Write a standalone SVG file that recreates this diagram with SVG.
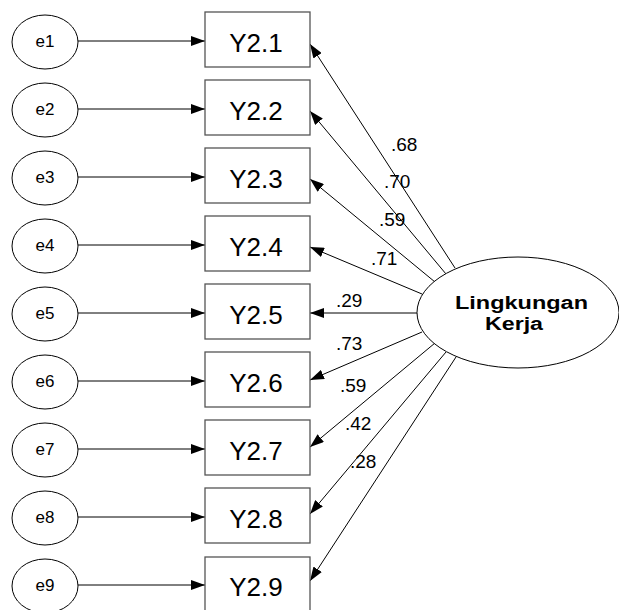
<svg xmlns="http://www.w3.org/2000/svg" width="619" height="610" viewBox="0 0 619 610">
<style>
.bg{fill:#fff}
.err ellipse{fill:#fff;stroke:#000;stroke-width:1}
.obs rect{fill:#fff;stroke:#555;stroke-width:1.3}
.et{font-family:"Liberation Sans",Arial,sans-serif;font-size:17px;fill:#000;text-anchor:middle}
.ot{font-family:"Liberation Sans",Arial,sans-serif;font-size:26px;fill:#000;text-anchor:middle}
.lt{font-family:"Liberation Sans",Arial,sans-serif;font-size:18px;font-weight:bold;fill:#000}
.wt{font-family:"Liberation Sans",Arial,sans-serif;font-size:19px;fill:#000}
#connectors line{stroke:#000;stroke-width:1;marker-end:url(#ah)}
</style>
<defs>
<marker id="ah" markerUnits="userSpaceOnUse" markerWidth="14" markerHeight="10" refX="14" refY="5" orient="auto">
<path d="M0,0 L14,5 L0,10 z" fill="#000"/>
</marker>
</defs>
<rect class="bg" x="0" y="0" width="619" height="610"/>

<g id="connectors">
<line x1="78" y1="41" x2="205" y2="41"/>
<line x1="78" y1="109" x2="205" y2="109"/>
<line x1="78" y1="177" x2="205" y2="177"/>
<line x1="78" y1="245" x2="205" y2="245"/>
<line x1="78" y1="313" x2="205" y2="313"/>
<line x1="78" y1="381" x2="205" y2="381"/>
<line x1="78" y1="449" x2="205" y2="449"/>
<line x1="78" y1="517" x2="205" y2="517"/>
<line x1="78" y1="585" x2="205" y2="585"/>

<line x1="455" y1="268" x2="310" y2="44"/>
<line x1="446" y1="274" x2="310" y2="111"/>
<line x1="435" y1="282" x2="310" y2="179"/>
<line x1="422" y1="294" x2="310" y2="247"/>
<line x1="417" y1="313" x2="310" y2="313"/>
<line x1="422" y1="332" x2="310" y2="380"/>
<line x1="435" y1="343" x2="310" y2="447"/>
<line x1="446" y1="352" x2="310" y2="514"/>
<line x1="456" y1="357" x2="310" y2="581"/>
</g>

<g id="weights">
<text class="wt" x="391" y="151">.68</text>
<text class="wt" x="384" y="188">.70</text>
<text class="wt" x="379" y="226">.59</text>
<text class="wt" x="371" y="265">.71</text>
<text class="wt" x="336" y="307">.29</text>
<text class="wt" x="336" y="350">.73</text>
<text class="wt" x="340" y="392">.59</text>
<text class="wt" x="345" y="430">.42</text>
<text class="wt" x="350" y="468">.28</text>
</g>

<g id="e1" class="err"><ellipse cx="45" cy="42" rx="33" ry="27"/><text class="et" x="45" y="47">e1</text></g>
<g id="e2" class="err"><ellipse cx="45" cy="110" rx="33" ry="27"/><text class="et" x="45" y="115">e2</text></g>
<g id="e3" class="err"><ellipse cx="45" cy="178" rx="33" ry="27"/><text class="et" x="45" y="183">e3</text></g>
<g id="e4" class="err"><ellipse cx="45" cy="246" rx="33" ry="27"/><text class="et" x="45" y="251">e4</text></g>
<g id="e5" class="err"><ellipse cx="45" cy="314" rx="33" ry="27"/><text class="et" x="45" y="319">e5</text></g>
<g id="e6" class="err"><ellipse cx="45" cy="382" rx="33" ry="27"/><text class="et" x="45" y="387">e6</text></g>
<g id="e7" class="err"><ellipse cx="45" cy="450" rx="33" ry="27"/><text class="et" x="45" y="455">e7</text></g>
<g id="e8" class="err"><ellipse cx="45" cy="518" rx="33" ry="27"/><text class="et" x="45" y="523">e8</text></g>
<g id="e9" class="err"><ellipse cx="45" cy="586" rx="33" ry="27"/><text class="et" x="45" y="591">e9</text></g>

<g id="Y2.1" class="obs"><rect x="205" y="12" width="105" height="55"/><text class="ot" x="256" y="52">Y2.1</text></g>
<g id="Y2.2" class="obs"><rect x="205" y="80" width="105" height="55"/><text class="ot" x="256" y="120">Y2.2</text></g>
<g id="Y2.3" class="obs"><rect x="205" y="148" width="105" height="55"/><text class="ot" x="256" y="188">Y2.3</text></g>
<g id="Y2.4" class="obs"><rect x="205" y="216" width="105" height="55"/><text class="ot" x="256" y="256">Y2.4</text></g>
<g id="Y2.5" class="obs"><rect x="205" y="284" width="105" height="55"/><text class="ot" x="256" y="324">Y2.5</text></g>
<g id="Y2.6" class="obs"><rect x="205" y="352" width="105" height="55"/><text class="ot" x="256" y="392">Y2.6</text></g>
<g id="Y2.7" class="obs"><rect x="205" y="420" width="105" height="55"/><text class="ot" x="256" y="460">Y2.7</text></g>
<g id="Y2.8" class="obs"><rect x="205" y="488" width="105" height="55"/><text class="ot" x="256" y="528">Y2.8</text></g>
<g id="Y2.9" class="obs"><rect x="205" y="557" width="105" height="55"/><text class="ot" x="256" y="596">Y2.9</text></g>

<g id="LingkunganKerja">
<ellipse cx="518" cy="312.5" rx="101" ry="55.5" fill="#fff" stroke="#000" stroke-width="1"/>
<text class="lt" x="455" y="309" textLength="133" lengthAdjust="spacingAndGlyphs">Lingkungan</text>
<text class="lt" x="485" y="330" textLength="58" lengthAdjust="spacingAndGlyphs">Kerja</text>
</g>
</svg>
